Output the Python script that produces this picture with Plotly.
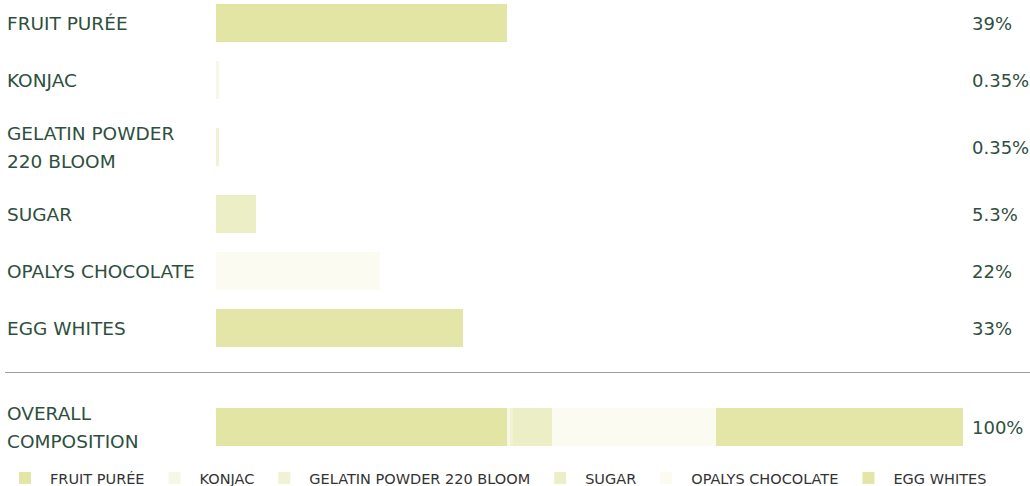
import plotly.graph_objects as go

# ---- data ----
ingredients = ["FRUIT PURÉE", "KONJAC", "GELATIN POWDER 220 BLOOM", "SUGAR", "OPALYS CHOCOLATE", "EGG WHITES"]
row_labels = [["FRUIT PURÉE"], ["KONJAC"], ["GELATIN POWDER", "220 BLOOM"], ["SUGAR"], ["OPALYS CHOCOLATE"], ["EGG WHITES"]]
percentages = [39, 0.35, 0.35, 5.3, 22, 33]
colors = ["#E3E5A4", "#F6F7E7", "#F0F2D3", "#ECEFC6", "#FBFBF2", "#E4E6A7"]
overall_label = ["OVERALL", "COMPOSITION"]

# ---- layout constants (pixels) ----
W, H = 1030, 486
ML, MR, MT, MB = 216, 0, 0, 31
PLOT_H = H - MT - MB
PLOT_W = W - ML - MR
FULL_SPAN = 747          # pixel length of 100 %
ROW_BASE = 57
LINE_EXTRA = 20
TOP_START = -5.5
SEP_BLOCK = 32
BAR_W = 38
LINE_GAP = 28
LABEL_COLOR = "#2F4F3E"
FONT = "DejaVu Sans"

# compute row centers from label line counts
centers = []
y = TOP_START
for lines in row_labels:
    h = ROW_BASE + LINE_EXTRA * (len(lines) - 1)
    centers.append(y + h / 2)
    y += h
sep_y = y + SEP_BLOCK / 2
y += SEP_BLOCK
h = ROW_BASE + LINE_EXTRA * (len(overall_label) - 1)
overall_center = y + h / 2
total = round(sum(percentages), 2)

fig = go.Figure()
for i, name in enumerate(ingredients):
    fig.add_trace(go.Bar(
        name=name,
        orientation="h",
        x=[percentages[i], percentages[i]],
        y=[centers[i], overall_center],
        width=BAR_W,
        marker=dict(color=colors[i], line=dict(width=0)),
        hovertemplate=name + ": %{x}%<extra></extra>",
    ))

annotations = []

def add_label(lines, yc):
    n = len(lines)
    for k, t in enumerate(lines):
        off = (k - (n - 1) / 2) * LINE_GAP
        annotations.append(dict(
            text=t, x=0, xref="paper", xanchor="left", xshift=-211,
            y=yc, yref="y", yanchor="middle", yshift=-off,
            showarrow=False, font=dict(family=FONT, size=18.5, color=LABEL_COLOR),
        ))

def add_pct(v, yc):
    annotations.append(dict(
        text=f"{v:.3g}%", x=total, xref="x", xanchor="left", xshift=7,
        y=yc, yref="y", yanchor="middle",
        showarrow=False, font=dict(family=FONT, size=18, color=LABEL_COLOR),
    ))

for lines, v, yc in zip(row_labels, percentages, centers):
    add_label(lines, yc)
    add_pct(v, yc)
add_label(overall_label, overall_center)
add_pct(total, overall_center)

fig.add_shape(
    type="line", xref="paper", yref="y",
    x0=(5 - ML) / PLOT_W, x1=1, y0=sep_y, y1=sep_y,
    line=dict(color="#9E9E9E", width=1),
)

fig.update_layout(
    width=W, height=H,
    margin=dict(l=ML, r=MR, t=MT, b=MB, autoexpand=False),
    barmode="stack",
    bargap=0,
    plot_bgcolor="white",
    paper_bgcolor="white",
    font=dict(family=FONT, color="#333333"),
    xaxis=dict(range=[0, 100 * PLOT_W / FULL_SPAN], visible=False, fixedrange=True),
    yaxis=dict(range=[PLOT_H, 0], visible=False, fixedrange=True),
    annotations=annotations,
    showlegend=True,
    legend=dict(
        orientation="h",
        xref="paper", x=-ML / PLOT_W, xanchor="left",
        yref="paper", y=-(478 - PLOT_H) / PLOT_H, yanchor="middle",
        font=dict(family=FONT, size=14.5, color="#333333"),
        bgcolor="rgba(0,0,0,0)",
        traceorder="normal",
        itemwidth=40,
    ),
)

fig.write_html(
    "out.html",
    config={"displayModeBar": False},
    post_script="document.body.style.margin='0';document.body.style.overflow='hidden';",
)
